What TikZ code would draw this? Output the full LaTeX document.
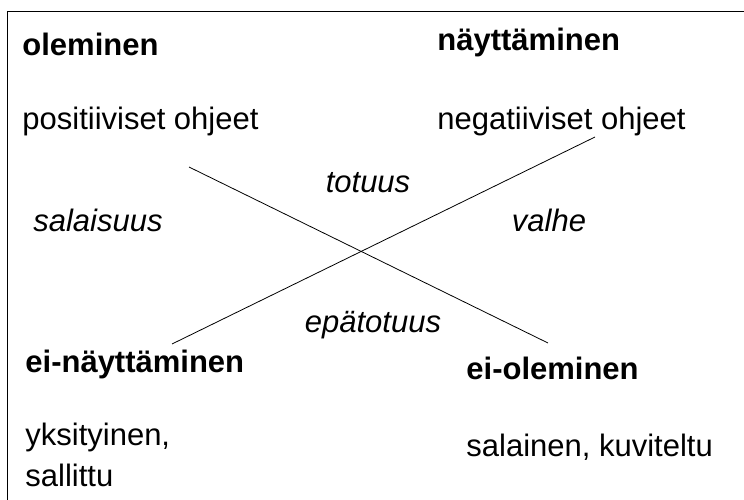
\documentclass[tikz,border=0pt]{standalone}
\usepackage{fontspec}
\setmainfont{Liberation Sans}
\usetikzlibrary{positioning}

\begin{document}
\begin{tikzpicture}[x=1pt,y=-1pt,line width=0.8pt,
                    head node/.style={anchor=base west,inner sep=0pt,font=\fontsize{31}{36}\selectfont\bfseries},
                    item node/.style={anchor=base west,inner sep=0pt,font=\fontsize{31}{36}\selectfont},
                    rel node/.style={anchor=base,inner sep=0pt,font=\fontsize{31}{36}\selectfont\itshape}]

  \useasboundingbox (0,0) rectangle (744,500);
  \draw[line width=1pt] (7,500) -- (7,12) -- (744,12);

  % corners
  \node[head node] (ol) at (22,56) {oleminen};
  \node[item node] (pos) at (22,130) {positiiviset ohjeet};
  \node[head node] (ny) at (437,51) {näyttäminen};
  \node[item node] (neg) at (437,130) {negatiiviset ohjeet};
  \node[head node] (einy) at (25,372) {ei-näyttäminen};
  \node[item node] (yks) at (25,445) {yksityinen,};
  \node[item node] (sal) at (25,486) {sallittu};
  \node[head node] (eiol) at (466,379) {ei-oleminen};
  \node[item node] (kuv) at (466,456) {salainen, kuviteltu};

  % relations
  \node[rel node] (tot) at (368,192) {totuus};
  \node[rel node] (sala) at (98,231) {salaisuus};
  \node[rel node] (val) at (549,231) {valhe};
  \node[rel node] (epa) at (373,332) {epätotuus};

  \coordinate (a) at (189,167);
  \coordinate (b) at (548,343);
  \coordinate (c) at (172,344);
  \coordinate (d) at (595,137);

  \draw (a) -- (b);
  \draw (c) -- (d);
\end{tikzpicture}
\end{document}
